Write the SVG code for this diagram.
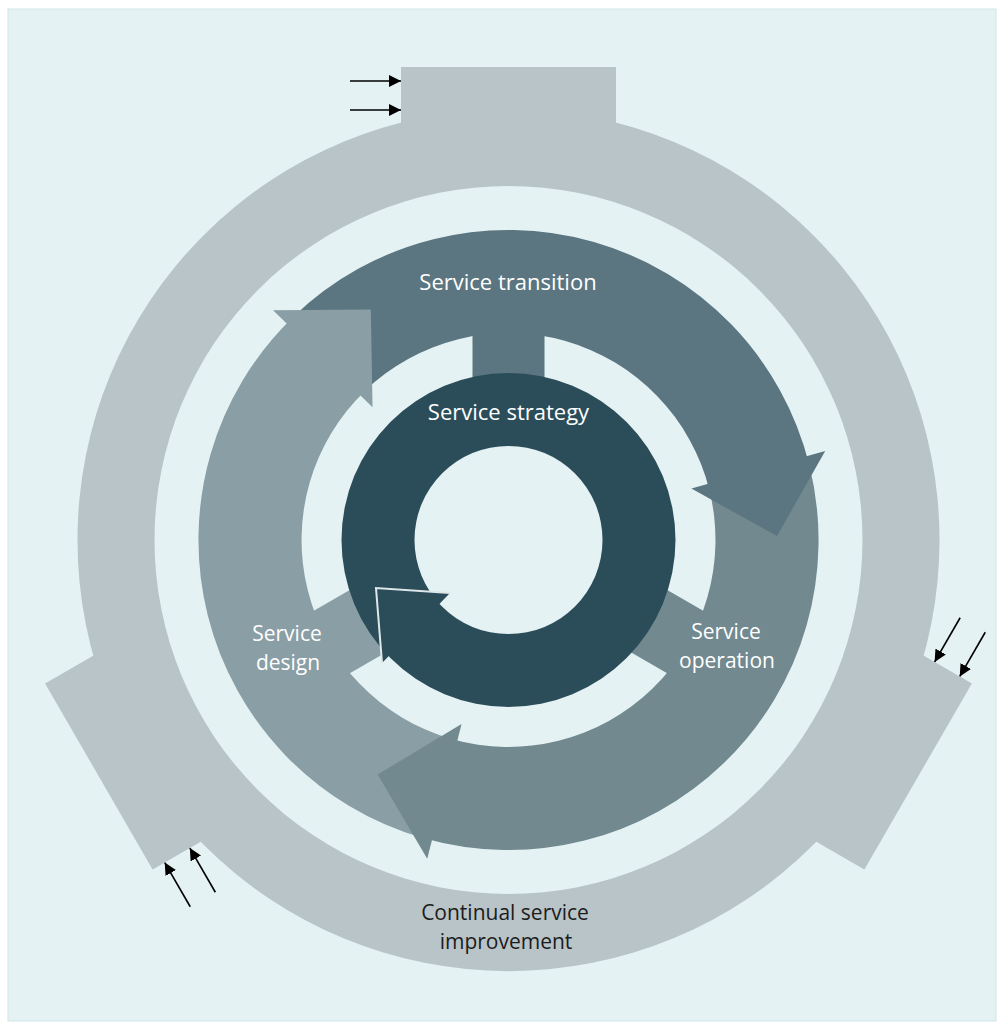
<svg xmlns="http://www.w3.org/2000/svg" width="1004" height="1030" viewBox="0 0 1004 1030">
  <style>
    .lbl { font-family: "Open Sans", "Noto Sans", "Liberation Sans", sans-serif; font-size: 22px; text-anchor: middle; }
    .lbl-2 { font-size: 21px; }
    .lbl-light { fill: #ffffff; }
    .lbl-dark { fill: #1c1c1c; }
    .csi { fill: #b8c4c7; }
    .transition { fill: #5b7680; }
    .operation { fill: #71898f; }
    .design { fill: #8a9ea5; }
    .strategy { fill: #2b4d5a; }
    .feed { stroke: #000000; stroke-width: 1.6; fill: none; }
  </style>
  <defs>
    <marker id="head" viewBox="0 0 12 12" refX="12" refY="6" markerWidth="12" markerHeight="12" markerUnits="userSpaceOnUse" orient="auto">
      <path d="M0,0 L12,6 L0,12 Z" fill="#000000"/>
    </marker>
    <!-- one third of the lifecycle ring: body sector (226deg to 346deg), inner stem, arrowhead -->
    <path id="body" d="M-215.4,-223.0 A310,310 0 0 1 300.8,-75.0 L200.8,-50.1 A207,207 0 0 0 -143.8,-148.9 Z"/>
    <rect id="stem" x="-36" y="-222" width="72" height="100"/>
    <path id="head3" d="M182.9,-51.4 L316.7,-89.0 L268.5,-4 Z"/>
    <!-- tab of the outer ring, with its two incoming arrows -->
    <g id="tab">
      <rect x="-107.5" y="-473" width="215" height="95"/>
    </g>
    <g id="feeds">
      <line class="feed" x1="-158.5" y1="-459" x2="-107.5" y2="-459" marker-end="url(#head)"/>
      <line class="feed" x1="-158.5" y1="-430" x2="-107.5" y2="-430" marker-end="url(#head)"/>
    </g>
  </defs>

  <!-- page -->
  <rect x="8" y="9" width="988" height="1012" fill="#e4f2f3" stroke="#cfe5e7" stroke-width="1"/>

  <!-- Continual service improvement: outer ring with three tabs -->
  <g id="node-csi" class="csi" transform="translate(508.5,540)">
    <path fill-rule="evenodd" d="M-431,0 A431,431 0 1 0 431,0 A431,431 0 1 0 -431,0 Z M-354,0 A354,354 0 1 1 354,0 A354,354 0 1 1 -354,0 Z"/>
    <use href="#tab"/>
    <use href="#tab" transform="rotate(120)"/>
    <use href="#tab" transform="rotate(240)"/>
  </g>

  <!-- Lifecycle ring -->
  <g id="node-transition" class="transition" transform="translate(508.5,540)">
    <use href="#body"/>
    <use href="#stem"/>
  </g>
  <g id="node-operation" class="operation" transform="translate(508.5,540) rotate(120)">
    <use href="#body"/>
    <use href="#stem"/>
  </g>
  <g id="node-design" class="design" transform="translate(508.5,540) rotate(240)">
    <use href="#body"/>
    <use href="#stem"/>
  </g>

  <!-- connectors: arrowheads of the lifecycle ring and incoming feeds -->
  <g id="connectors">
    <g transform="translate(508.5,540)">
      <use href="#head3" class="transition"/>
      <use href="#head3" class="operation" transform="rotate(120)"/>
      <use href="#head3" class="design" transform="rotate(240)"/>
      <use href="#feeds"/>
      <use href="#feeds" transform="rotate(120)"/>
      <use href="#feeds" transform="rotate(240)"/>
    </g>
  </g>

  <!-- Service strategy: inner cycle -->
  <g id="node-strategy">
    <path class="strategy" fill-rule="evenodd" d="M341.5,540 A167,167 0 1 0 675.5,540 A167,167 0 1 0 341.5,540 Z M414.5,540 A94,94 0 1 1 602.5,540 A94,94 0 1 1 414.5,540 Z"/>
    <path class="strategy" d="M450,593 L376,588 L382,663 Z"/>
    <polyline points="450,593 376,588 382,663" fill="none" stroke="#dfe7e9" stroke-width="2"/>
  </g>

  <!-- labels -->
  <g id="labels">
    <text class="lbl lbl-light" x="508" y="290">Service transition</text>
    <text class="lbl lbl-light" x="508.5" y="420">Service strategy</text>
    <text class="lbl lbl-2 lbl-light" x="287" y="641">Service<tspan x="288" dy="29">design</tspan></text>
    <text class="lbl lbl-2 lbl-light" x="726" y="639">Service<tspan x="727" dy="29">operation</tspan></text>
    <text class="lbl lbl-2 lbl-dark" x="505" y="920">Continual service<tspan x="506" dy="29">improvement</tspan></text>
  </g>
</svg>
